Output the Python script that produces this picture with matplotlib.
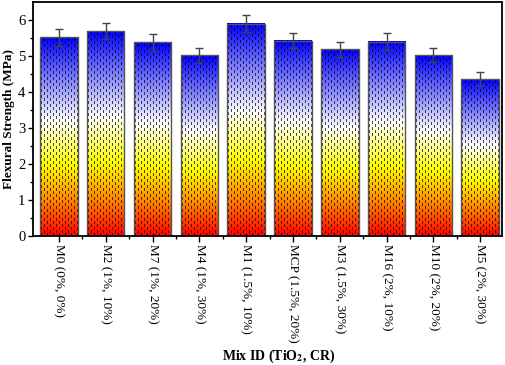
import numpy as np
import matplotlib
matplotlib.use("Agg")
import matplotlib.pyplot as plt
from matplotlib.colors import LinearSegmentedColormap

mixes = ["M0 (0%, 0%)", "M2 (1%, 10%)", "M7 (1%, 20%)", "M4 (1%, 30%)",
         "M1 (1.5%, 10%)", "MCP (1.5%, 20%)", "M3 (1.5%, 30%)",
         "M16 (2%, 10%)", "M10 (2%, 20%)", "M5 (2%, 30%)"]
strength = [5.52, 5.69, 5.38, 5.02, 5.90, 5.43, 5.19, 5.40, 5.02, 4.36]
err = [0.23, 0.23, 0.23, 0.21, 0.24, 0.22, 0.21, 0.23, 0.20, 0.20]

plt.rcParams['font.family'] = ['Liberation Serif', 'DejaVu Serif']
plt.rcParams['mathtext.fontset'] = 'stix'

cmap = LinearSegmentedColormap.from_list(
    "rw", [(0.0, "#ff0000"), (0.17, "#ff8000"), (0.36, "#ffff00"),
           (0.58, "#ffffff"), (1.0, "#0000ff")])

fig = plt.figure(figsize=(5.05, 3.65), dpi=100)
ax = fig.add_axes([0.0653, 0.3534, 0.9287, 0.6411])

x = np.arange(len(mixes))
w = 0.8
ymax = 6.5
px_per_unit = 234 / ymax

# gradient fill with a staggered dash texture, one image per bar
for xi, h in zip(x, strength):
    nrows = int(round(h * px_per_unit))
    ncols = 38
    t = (np.arange(nrows) + 0.5) / nrows
    img = np.repeat(cmap(t)[:, None, :3], ncols, axis=1)
    r = np.arange(nrows)[:, None]
    c = np.arange(ncols)[None, :]
    shift = ((c // 3) % 2) * 3
    mask = ((c % 3) == 1) & (((r + shift) % 6) < 3)
    img[mask] = img[mask] * 0.3
    ax.imshow(img, extent=(xi - w / 2, xi + w / 2, 0, h), origin='lower',
              aspect='auto', interpolation='nearest', zorder=1)

ax.bar(x, strength, width=w, facecolor='none', edgecolor='#555555',
       linewidth=1.0, zorder=2)
ax.errorbar(x, strength, yerr=err, fmt='none', ecolor='#444444',
            elinewidth=1.0, capsize=3, capthick=1.0, zorder=3)

ax.set_xlim(-0.555, 9.465)
ax.set_ylim(0, ymax)
ax.set_yticks(range(0, 7))
ax.set_yticks(np.arange(0.5, 6.5, 1.0), minor=True)
ax.set_xticks(x)
ax.set_xticks(x[:-1] + 0.5, minor=True)
ax.set_xticklabels(mixes, rotation=270, fontsize=9.5)
ax.tick_params(axis='y', which='major', labelsize=10.5, direction='out', length=3.5, width=1, pad=2)
ax.tick_params(axis='y', which='minor', direction='out', length=2, width=1)
ax.tick_params(axis='x', which='major', direction='out', length=4, width=1, pad=2)
ax.tick_params(axis='x', which='minor', direction='out', length=2.5, width=1)
for s in ax.spines.values():
    s.set_linewidth(1.3)

ax.set_ylabel("Flexural Strength (MPa)", fontsize=9.5, fontweight='bold')
ax.yaxis.set_label_coords(-0.038, 0.5)
ax.set_xlabel("Mix ID (TiO$_\\mathbf{2}$, CR)", fontsize=10, fontweight='bold')
ax.xaxis.set_label_coords(0.524, -0.478)

fig.savefig("out.png", dpi=100)
